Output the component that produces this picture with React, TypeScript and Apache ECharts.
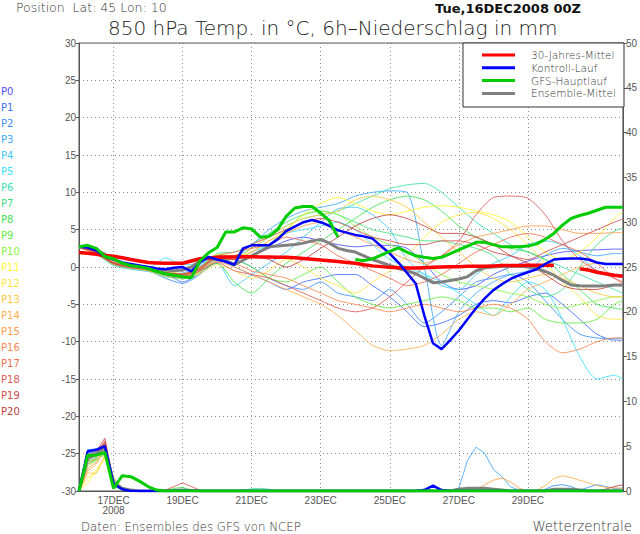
import React, { useEffect, useRef } from "react";
import * as echarts from "echarts";

// ---------- axes / categories ----------
const HOURS_6 = Array.from({ length: 64 }, (_, i) => i * 6); // 16DEC 00Z .. +378h
const HOURS_12 = [...Array.from({ length: 32 }, (_, i) => i * 12), 378];
const DAY_TICKS = [24, 72, 120, 168, 216, 264, 312];
const DAY_LABELS = ["17DEC\n2008", "19DEC", "21DEC", "23DEC", "25DEC", "27DEC", "29DEC"];

// ---------- texts ----------
const POSITION_TEXT = "Position  Lat: 45 Lon: 10";
const TITLE_TEXT = "850 hPa Temp. in °C, 6h\u2013Niederschlag in mm";
const DATE_TEXT = "Tue,16DEC2008 00Z";
const SOURCE_TEXT = "Daten: Ensembles des GFS von NCEP";
const BRAND_TEXT = "Wetterzentrale";

// ---------- ensemble members ----------
const MEMBERS = ["P0","P1","P2","P3","P4","P5","P6","P7","P8","P9","P10","P11","P12","P13","P14","P15","P16","P17","P18","P19","P20"];
const MEMBER_COLORS = [
  "#5050ff","#4070ff","#4090ff","#40a8ff","#40c8ff","#40e0ff","#40e0b0","#40e080","#40e050","#60ec40","#88f840",
  "#ffff30","#ffe640","#ffc840","#ffb050","#ff9c50","#f88850","#f07050","#e05a5a","#d04c4c","#c04040",
];

// 850 hPa temperature per member, every 12 h (last point 378 h)
const MEMBER_TEMP = [
  [2.8,1.8,0.4,0.1,-0.3,-1.2,-1.5,-0.5,1.3, 0.5,1.5,2.5,3.5,4.0,3.5,3.0,2.7,2.9,2.9,2.5,0.5,-2.0,-3.0,-2.5,-1.0,0.0,0.8,1.5,2.0,2.2,2.3,2.4,2.4],
  [2.7,2.0,0.6,0.3,-0.2,-0.8,-2.0,-0.8,1.0, 0.0,-1.0,-2.0,-3.0,-2.0,-1.5,-1.0,-1.0,-2.5,-4.0,-6.0,-8.0,-7.5,-6.5,-5.0,-4.5,-4.8,-4.0,-3.5,-5.0,-7.0,-9.0,-9.8,-9.8],
  [2.6,1.9,0.3,-0.2,-0.5,-1.5,-2.2,-1.0,0.8, 1.0,0.0,-1.5,-2.5,-3.0,-2.0,-3.5,-4.0,-4.5,-3.0,-5.0,-7.5,-6.0,-4.0,-2.0,-1.5,-1.0,-2.0,-4.5,-7.0,-9.0,-9.5,-9.6,-9.5],
  [2.7,2.1,0.5,0.0,-0.4,-0.9,-0.8,0.2,1.5, 1.5,3.0,5.0,6.5,7.5,8.0,8.5,9.5,10.0,10.2,10.0,0.0,-10.5,-6.0,-3.5,-2.0,-1.0,-0.5,1.5,2.5,2.0,1.5,1.8,1.8],
  [2.8,1.7,0.2,-0.3,-0.6,-1.0,-1.2,-0.4,0.5, -2.5,-1.0,0.5,2.0,4.0,6.0,7.8,8.0,7.0,5.0,1.0,-1.0,-2.5,-3.0,-1.0,0.5,1.5,3.0,3.5,3.0,1.5,-0.5,-1.0,-1.0],
  [2.7,2.0,0.7,0.2,-0.2,1.2,0.3,0.5,1.2, 1.0,2.0,3.0,4.5,5.0,5.5,6.0,5.0,3.0,1.0,0.0,-1.0,-2.0,-3.5,-5.0,-6.5,-4.0,-2.0,-3.0,-7.0,-12.0,-15.0,-14.5,-15.0],
  [2.6,1.9,0.6,0.2,-0.1,-0.7,-1.0,0.0,1.6, 1.5,2.5,4.0,5.5,6.5,7.0,7.5,8.5,9.5,10.5,11.0,11.2,10.0,8.0,6.0,4.5,3.0,2.0,1.0,0.0,-1.0,-2.0,-3.0,-3.5],
  [2.7,1.8,0.5,0.0,-0.3,-0.9,-1.1,-0.2,1.8, 2.0,3.0,4.5,6.0,7.0,7.5,7.0,6.0,5.0,4.5,4.0,3.5,3.5,3.0,2.5,1.5,-1.0,-3.0,-4.0,-3.0,0.0,3.0,4.8,5.2],
  [2.8,2.0,0.4,-0.1,-0.4,-1.1,-1.3,-0.6,0.5, -2.0,-3.5,-1.5,0.5,2.0,3.5,5.0,6.5,8.0,9.0,9.5,9.0,7.5,5.5,4.0,3.0,2.5,2.0,1.0,-1.0,-3.0,-5.0,-5.5,-5.7],
  [2.7,1.9,0.6,0.1,-0.3,-0.8,-1.0,-0.3,1.4, 1.0,0.0,-1.5,-2.0,-1.0,0.0,-2.0,-4.0,-5.0,-5.5,-5.0,-4.5,-4.0,-4.5,-5.5,-5.5,-6.0,-5.5,-7.0,-7.5,-7.5,-7.0,-5.0,-4.5],
  [2.6,1.7,0.3,-0.2,-0.5,-1.3,-1.6,-0.7,0.9, 0.5,1.5,3.0,5.0,7.0,7.5,7.0,5.5,4.0,3.0,2.0,0.5,-1.0,-2.0,-2.5,-3.0,-3.5,-4.0,-5.0,-5.5,-5.0,-4.5,-4.0,-4.0],
  [2.7,2.2,0.8,0.3,0.0,-0.5,-0.9,-0.1,1.7, 1.5,2.0,3.5,5.0,7.0,8.5,9.3,8.5,7.5,7.0,7.5,8.0,8.2,8.0,7.5,7.0,6.0,4.0,2.0,1.0,2.0,4.0,6.5,7.4],
  [2.8,2.1,0.7,0.2,-0.1,-0.6,-1.4,-0.9,0.3, -0.5,-1.5,-0.5,1.0,0.0,-1.5,-2.5,-3.5,-2.0,-0.5,1.5,4.0,6.0,7.0,7.3,6.5,5.0,3.0,0.5,-2.0,-4.0,-6.5,-7.0,-7.0],
  [2.7,1.9,0.5,0.0,-0.4,-1.0,-1.2,-0.3,1.1, 1.0,2.5,4.0,5.5,6.5,7.0,7.5,9.0,9.5,9.0,8.0,6.0,4.0,2.0,0.0,-1.5,-2.0,-1.5,-1.0,-1.5,-2.5,-3.5,-4.0,-4.0],
  [2.6,1.8,0.4,-0.1,-0.5,-1.1,-1.4,-0.6,0.7, 0.0,-1.0,-2.0,-3.0,-4.0,-5.0,-6.5,-8.5,-10.5,-11.2,-11.0,-10.5,-9.0,-7.0,-6.0,-6.5,-5.0,-3.0,-2.0,-1.0,0.0,0.5,0.5,0.5],
  [2.7,2.0,0.6,0.1,-0.2,-0.8,-1.0,-0.2,1.3, 1.0,2.0,3.5,4.5,5.5,6.0,5.0,4.0,3.0,2.0,1.0,0.5,1.5,3.0,4.0,4.5,5.0,5.5,5.5,5.0,4.5,4.5,4.6,4.6],
  [2.8,1.9,0.5,0.0,-0.3,-0.9,-1.1,-0.4,1.0, 0.5,-0.5,-1.0,-1.5,-2.5,-3.5,-4.5,-5.0,-5.5,-6.0,-5.5,-5.0,-5.5,-6.0,-5.5,-5.0,-5.5,-7.0,-10.0,-11.5,-11.0,-10.0,-9.5,-9.5],
  [2.7,2.0,0.5,0.1,-0.3,-1.0,-1.2,-0.3,1.5, 2.0,2.5,3.0,4.0,3.5,3.0,1.5,0.5,-0.5,-1.5,-2.5,-2.0,-1.0,0.5,2.0,3.0,4.0,4.5,4.0,3.0,2.0,0.5,-1.5,-2.2],
  [2.6,1.8,0.4,-0.1,-0.4,-1.0,-1.3,-0.5,0.6, -0.5,-1.0,-1.5,-2.5,-3.5,-4.5,-5.5,-6.0,-5.5,-4.0,-2.0,0.0,1.5,3.5,7.0,9.3,9.5,9.2,7.0,3.5,1.0,-0.5,-1.5,-2.0],
  [2.7,1.9,0.6,0.2,-0.2,-0.7,-0.9,0.0,1.4, 1.5,3.0,4.0,5.0,6.0,6.5,6.0,5.0,4.0,3.5,3.0,3.0,3.5,3.5,3.0,2.0,1.5,1.0,2.0,3.0,4.0,5.0,6.0,6.4],
  [2.8,2.0,0.5,0.0,-0.3,-0.8,-1.0,-0.2,1.2, 1.0,1.5,1.0,0.0,1.0,2.5,4.0,5.5,6.5,7.0,6.5,5.5,4.5,4.5,4.0,3.0,1.5,0.5,-1.0,-2.5,-3.0,-3.0,-2.5,-2.5],
];

// 6h precipitation of members: first 36 h (every 6 h), rest = events
const MEMBER_PRECIP_EARLY = [
  [0,4.0,4.2,4.8,1.0,0.2,0],[0,4.6,4.6,4.9,0.8,0.3,0],[0,4.6,4.7,5.2,1.2,0.4,0],[0,4.2,4.4,5.3,1.0,0.2,0],
  [0,3.8,4.3,5.0,1.4,0.3,0],[0,3.5,4.0,5.1,0.8,0.2,0],[0,3.6,4.0,4.5,0.6,0.2,0],[0,3.2,3.8,4.3,0.9,0.3,0],
  [0,3.0,3.5,4.2,0.7,0.2,0],[0,3.3,3.6,4.0,0.5,0.1,0],[0,2.8,3.4,4.4,0.8,0.2,0],[0,0.9,2.4,3.6,0.6,0.2,0],
  [0,1.5,2.0,3.8,1.0,0.3,0],[0,2.0,2.0,4.0,1.2,0.3,0],[0,2.2,3.0,4.6,1.5,0.4,0],[0,2.5,3.2,4.8,1.0,0.3,0],
  [0,3.0,3.7,5.0,0.9,0.2,0],[0,3.4,4.0,5.3,1.1,0.3,0],[0,3.8,4.2,5.6,0.9,0.2,0],[0,4.0,4.4,5.9,1.0,0.3,0],
  [0,3.6,4.1,5.4,0.8,0.2,0],
];
const MEMBER_PRECIP_EVENTS = [
  { member: 18, start: 54, values: [0, 0.1, 0.5, 0.9, 0.5, 0.1, 0] },
  { member: 8, start: 60, values: [0, 0.3, 0.4, 0.1, 0] },
  { member: 6, start: 108, values: [0, 0.1, 0.25, 0.3, 0.2, 0] },
  { member: 5, start: 228, values: [0, 0.1, 0.2, 0.1, 0] },
  { member: 3, start: 258, values: [0, 0.3, 3.4, 4.9, 4.2, 2.4, 1.6, 0.45, 0.1, 0] },
  { member: 15, start: 270, values: [0, 0.1, 0.7, 1.2, 1.45, 1.0, 0.3, 0] },
  { member: 14, start: 312, values: [0, 0.1, 0.6, 1.4, 1.7, 1.5, 1.2, 0.9, 0.6, 0.4, 0.35, 0.3] },
  { member: 2, start: 318, values: [0, 0.2, 0.6, 0.7, 0.5, 0.1, 0.4, 0.7, 0.5, 0.3, 0.3] },
  { member: 20, start: 360, values: [0, 0.2, 0.5, 0.7] },
];

// ---------- bold lines, every 6 h ----------
const LEGEND_NAMES = ["30-Jahres-Mittel", "Kontroll-Lauf", "GFS-Hauptlauf", "Ensemble-Mittel"];
const LEGEND_COLORS = ["#ff0000", "#0000ff", "#00cc00", "#808080"];

const CLIMATE_TEMP = [1.95,1.85,1.7,1.55,1.45,1.25,1.0,0.8,0.6,0.55,0.5,0.5,0.5,0.8,1.1,1.2,1.3,1.35,1.35,1.37,1.37,1.35,1.35,1.3,1.3,1.25,1.15,1.05,0.95,0.85,0.75,0.6,0.5,0.3,0.15,0.05,-0.05,-0.1,-0.15,-0.15,-0.1,-0.05,0,0.05,0.05,0.1,0.1,0.1,0.15,0.2,0.2,0.2,0.25,0.25,0.25,0.25,null,null,-0.25,-0.4,-0.7,-0.9,-1.1,-1.25];
const CONTROL_TEMP = [2.7,2.6,2.2,1.4,1.0,0.6,0.4,0.2,0,-0.2,-0.3,-0.1,0.0,-0.6,0.6,1.35,1.0,0.7,0.3,2.5,2.9,2.9,2.9,3.7,4.8,5.4,6.0,6.3,6.0,5.5,4.9,4.6,4.3,4.1,3.8,2.8,1.8,0.6,-0.8,-2.2,-6.5,-10.2,-11,-9.8,-8.5,-7.0,-5.5,-4.2,-3.1,-2.3,-1.6,-1.1,-0.7,-0.3,0.4,1.0,1.1,1.15,1.15,1.0,0.6,0.4,0.4,0.4];
const MAIN_TEMP = [2.7,2.9,2.5,1.4,1.1,0.5,0.2,0.05,-0.2,-0.6,-0.9,-1.1,-1.3,-1.45,0.8,1.9,2.6,4.7,4.7,5.25,5.1,4.0,4.1,5.0,6.8,7.9,8.1,8.1,7.2,6.2,4.0,null,1.0,0.85,1.1,1.6,2.1,2.55,2.0,1.5,1.3,1.15,1.3,1.8,2.3,2.8,3.3,3.3,3.0,2.7,2.7,2.7,2.8,3.1,3.7,4.5,5.6,6.5,6.9,7.2,7.6,8.0,8.0,8.0];
const MEAN_TEMP = [null,2.6,2.3,1.7,1.1,0.5,0.15,0.0,-0.1,-0.3,-0.4,-0.5,-0.4,0.0,0.8,1.15,1.0,0.9,0.3,0.9,1.5,2.1,2.7,2.8,2.9,3.0,3.2,3.5,3.7,3.2,2.5,2.2,2.0,1.5,1.0,0.6,0.2,-0.2,-0.5,-0.9,-1.5,-2.1,-2.0,-1.8,-1.6,-1.3,-0.5,-0.1,0.0,0.1,0.1,0.1,0.0,-0.2,-0.6,-1.1,-1.8,-2.4,-2.5,-2.55,-2.55,-2.5,-2.4,-2.4];

const CONTROL_PRECIP_EARLY = [0, 4.4, 4.6, 5.0, 0.8, 0.2, 0];
const CONTROL_PRECIP_EVENTS = [{ start: 234, values: [0, 0.1, 0.6, 0.1, 0] }];
const MAIN_PRECIP_EARLY = [0, 4.0, 4.0, 4.3, 0.3, 1.7, 1.6, 1.1, 0.5, 0.1, 0];
const MAIN_PRECIP_EVENTS: { start: number; values: number[] }[] = [];
const MEAN_PRECIP_EARLY = [0, 3.6, 4.1, 4.9, 0.9, 0.3, 0.1, 0];
const MEAN_PRECIP_EVENTS = [
  { start: 60, values: [0, 0.05, 0.1, 0.05, 0] },
  { start: 258, values: [0, 0.2, 0.3, 0.3, 0.3, 0.2, 0.1, 0] },
  { start: 324, values: [0, 0.2, 0.2, 0.2, 0.1, 0] },
];

const FONT = '"DejaVu Sans", sans-serif';
const TICK_FONT = '"Liberation Sans Narrow", "Liberation Sans", sans-serif';

function buildPrecip(early: number[], events: { start: number; values: number[] }[]) {
  return HOURS_6.map((h, i) => {
    if (i < early.length) return [h, early[i]];
    for (const ev of events) {
      const k = (h - ev.start) / 6;
      if (k >= 0 && k < ev.values.length) return [h, ev.values[k]];
    }
    return [h, 0];
  });
}

function pairs6(values: (number | null)[]) {
  return HOURS_6.map((h, i) => [h, values[i] === null ? "-" : values[i]]);
}

function buildOption() {
  const series: any[] = [];
  MEMBERS.forEach((name, i) => {
    series.push({
      type: "line", name, xAxisIndex: 0, yAxisIndex: 0, symbol: "none", smooth: 0.25,
      data: HOURS_12.map((h, j) => [h, MEMBER_TEMP[i][j]]),
      lineStyle: { color: MEMBER_COLORS[i], width: 1, opacity: 0.85 }, z: 2,
    });
    series.push({
      type: "line", name: name + " RR", xAxisIndex: 0, yAxisIndex: 1, symbol: "none",
      data: buildPrecip(MEMBER_PRECIP_EARLY[i], MEMBER_PRECIP_EVENTS.filter((e) => e.member === i)),
      lineStyle: { color: MEMBER_COLORS[i], width: 1, opacity: 0.85 }, z: 2,
    });
  });
  const bold = [
    { name: LEGEND_NAMES[3], color: LEGEND_COLORS[3], t: MEAN_TEMP, p: buildPrecip(MEAN_PRECIP_EARLY, MEAN_PRECIP_EVENTS), w: 3 },
    { name: LEGEND_NAMES[0], color: LEGEND_COLORS[0], t: CLIMATE_TEMP, p: null, w: 3.5 },
    { name: LEGEND_NAMES[1], color: LEGEND_COLORS[1], t: CONTROL_TEMP, p: buildPrecip(CONTROL_PRECIP_EARLY, CONTROL_PRECIP_EVENTS), w: 2.5 },
    { name: LEGEND_NAMES[2], color: LEGEND_COLORS[2], t: MAIN_TEMP, p: buildPrecip(MAIN_PRECIP_EARLY, MAIN_PRECIP_EVENTS), w: 3 },
  ];
  bold.forEach((b, k) => {
    series.push({
      type: "line", name: b.name, xAxisIndex: 0, yAxisIndex: 0, symbol: "none", connectNulls: false,
      data: pairs6(b.t), lineStyle: { color: b.color, width: b.w }, z: 5 + k,
    });
    if (b.p) {
      series.push({
        type: "line", name: b.name + " RR", xAxisIndex: 0, yAxisIndex: 1, symbol: "none",
        data: b.p, lineStyle: { color: b.color, width: b.w }, z: 5 + k,
      });
    }
  });

  const graphic: any[] = [
    { type: "text", x: 16, y: 7, style: { text: POSITION_TEXT, fontSize: 12.5, fontWeight: 200, fontFamily: FONT, fill: "#333", align: "left", verticalAlign: "middle" } },
    { type: "text", x: 108, y: 28, style: { text: TITLE_TEXT, fontSize: 20, fontWeight: 200, fontFamily: FONT, fill: "#222", align: "left", verticalAlign: "middle" } },
    { type: "text", x: 435, y: 8.5, style: { text: DATE_TEXT, fontSize: 13, fontWeight: "bold", fontFamily: FONT, fill: "#111", align: "left", verticalAlign: "middle" } },
    { type: "text", x: 81, y: 526.5, style: { text: SOURCE_TEXT, fontSize: 11.8, fontWeight: 200, fontFamily: FONT, fill: "#333", align: "left", verticalAlign: "middle" } },
    { type: "text", x: 632, y: 526.5, style: { text: BRAND_TEXT, fontSize: 13.4, fontWeight: 200, fontFamily: FONT, fill: "#333", align: "right", verticalAlign: "middle" } },
  ];
  MEMBERS.forEach((name, i) => {
    graphic.push({ type: "text", x: 1, y: 91 + 16 * i, style: { text: name, fontSize: 10, fontFamily: FONT, fill: MEMBER_COLORS[i], align: "left", verticalAlign: "middle" } });
  });
  graphic.push({ type: "rect", z: 100, shape: { x: 463, y: 43, width: 161, height: 64 }, style: { fill: "#fff", stroke: "#333", lineWidth: 1 } });
  LEGEND_NAMES.forEach((name, i) => {
    const y = 55 + 12.8 * i;
    graphic.push({ type: "line", z: 101, shape: { x1: 482, y1: y, x2: 515, y2: y }, style: { stroke: LEGEND_COLORS[i], lineWidth: 3 } });
    graphic.push({ type: "text", z: 101, x: 531, y, style: { text: name, fontSize: 10.5, fontWeight: 200, fontFamily: FONT, fill: "#333", align: "left", verticalAlign: "middle" } });
  });

  const dotted = { color: "#8a8a8a", type: [1, 3] as any, width: 1 };

  return {
    animation: false,
    backgroundColor: "#fff",
    grid: { left: 79, top: 43, width: 545, height: 448, show: true, borderColor: "#555", borderWidth: 1, containLabel: false },
    xAxis: {
      type: "value", min: 0, max: 378,
      axisLine: { show: true, onZero: false, lineStyle: { color: "#555" } },
      axisTick: { show: false, customValues: DAY_TICKS },
      axisLabel: {
        customValues: DAY_TICKS, color: "#555", fontSize: 10, fontFamily: TICK_FONT, margin: 4, lineHeight: 10,
        formatter: (v: number) => DAY_LABELS[DAY_TICKS.indexOf(v)] ?? "",
      },
      splitLine: { show: true, lineStyle: dotted },
    },
    yAxis: [
      {
        type: "value", min: -30, max: 30, interval: 5, position: "left",
        axisLine: { show: true, onZero: false, lineStyle: { color: "#555" } },
        axisTick: { show: true, length: 3, lineStyle: { color: "#555" } },
        axisLabel: { color: "#555", fontSize: 10, fontFamily: TICK_FONT, margin: 3 },
        splitLine: { show: true, lineStyle: dotted },
      },
      {
        type: "value", min: 0, max: 50, interval: 5, position: "right",
        axisLine: { show: true, onZero: false, lineStyle: { color: "#555" } },
        axisTick: { show: true, length: 4, lineStyle: { color: "#555" } },
        axisLabel: { color: "#555", fontSize: 10, fontFamily: TICK_FONT, margin: 3 },
        splitLine: { show: false },
      },
    ],
    series,
    graphic,
  };
}

export default function App() {
  const ref = useRef<HTMLDivElement>(null);
  useEffect(() => {
    if (!ref.current) return;
    const chart = echarts.init(ref.current, undefined, { renderer: "svg" });
    chart.setOption(buildOption() as any);
    return () => chart.dispose();
  }, []);
  return <div ref={ref} style={{ position: "absolute", left: 0, top: 0, width: 640, height: 534, background: "#fff" }} />;
}
